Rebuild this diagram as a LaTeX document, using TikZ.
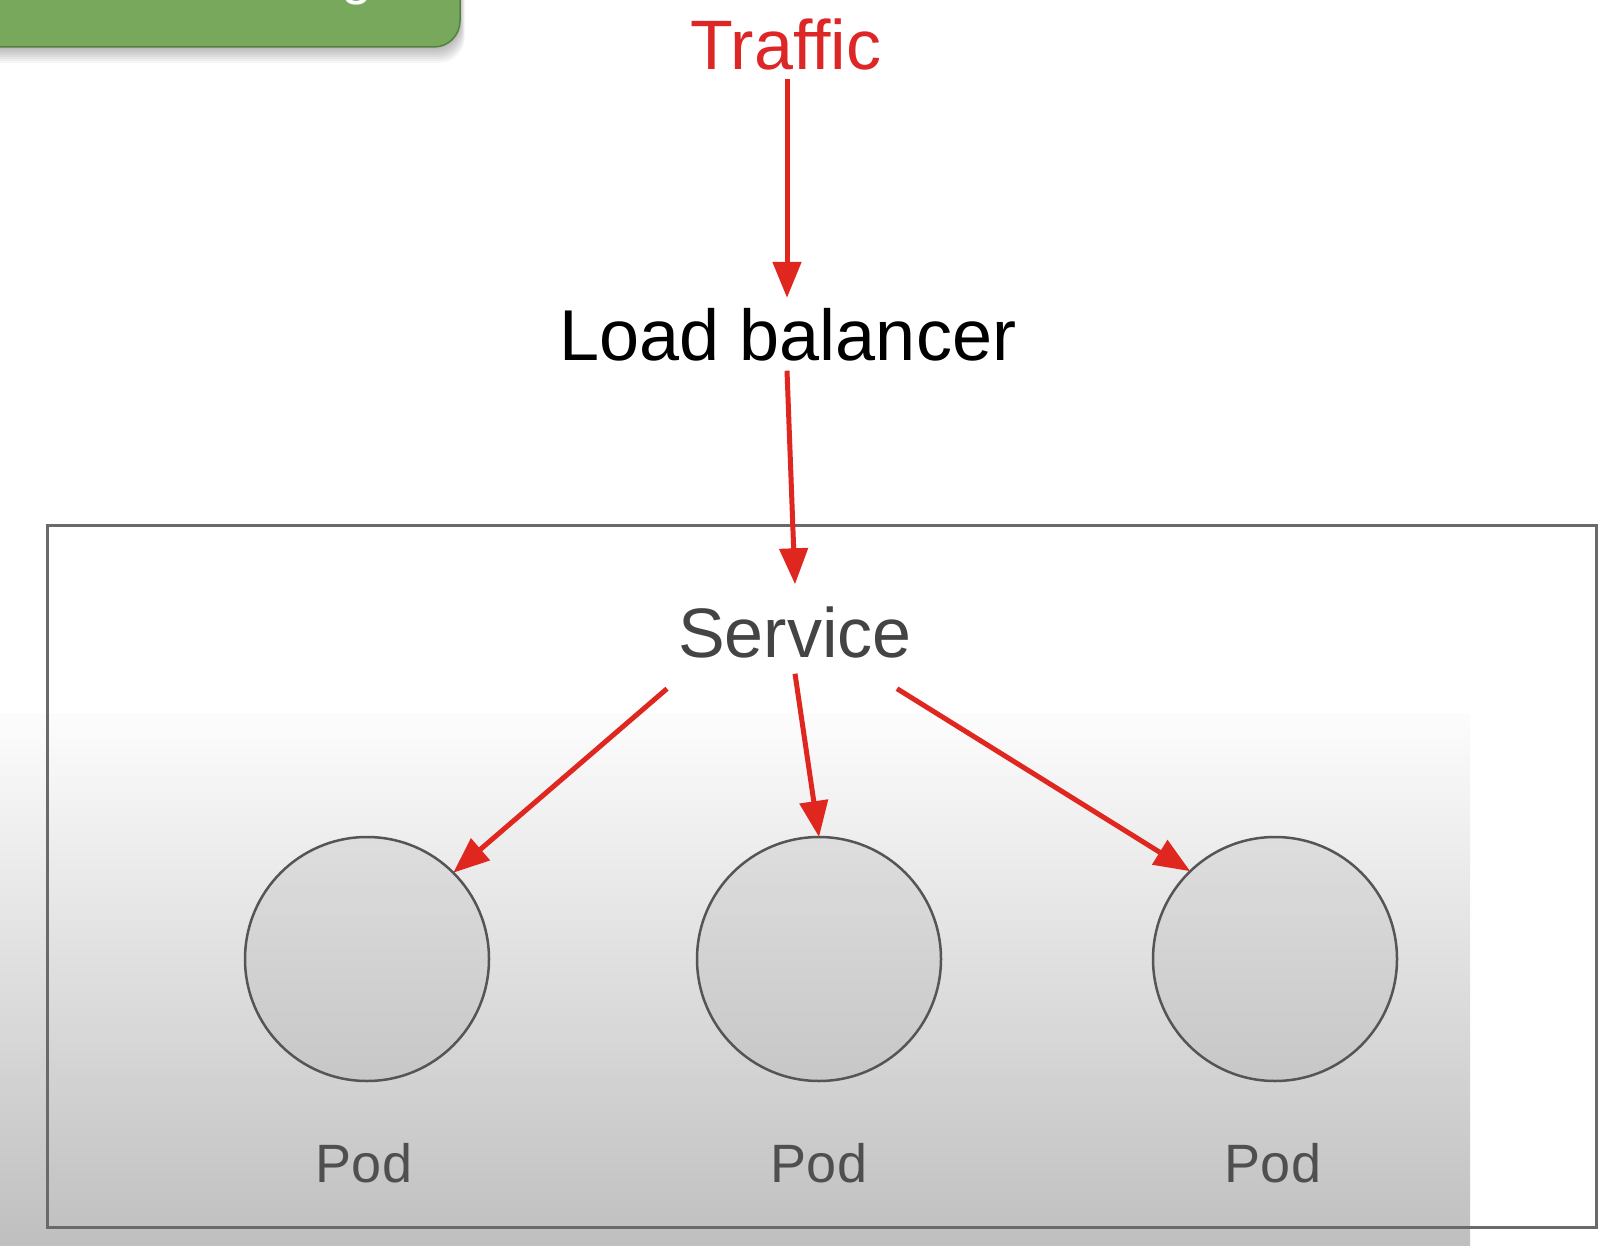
\documentclass[tikz,border=0pt]{standalone}
\usepackage{fontspec}
\setmainfont{Liberation Sans}
\usetikzlibrary{arrows.meta,calc}
\definecolor{arrred}{HTML}{E0271F}
\definecolor{txtred}{HTML}{DD2626}
\definecolor{titlegreen}{HTML}{78A85C}
\definecolor{titleedge}{HTML}{557F40}
\definecolor{boxgrey}{HTML}{6A6A6A}
\definecolor{podedge}{HTML}{555555}
\definecolor{svcgrey}{HTML}{444444}
\definecolor{podgrey}{HTML}{4F4F4F}
\definecolor{fadegrey}{HTML}{BFBFBF}
\tikzset{
  arr/.style={draw=arrred, line width=5pt, -{Triangle[length=36pt,width=28pt]}},
  bigtext/.style={inner sep=0pt, outer sep=0pt, anchor=base, font=\fontsize{72}{80}\selectfont},
  podtext/.style={inner sep=0pt, outer sep=0pt, anchor=base, text=podgrey, font=\fontsize{54}{60}\selectfont},
  pod/.style={circle, inner sep=0pt, outer sep=0pt, minimum size=244pt, draw=podedge, line width=2.5pt, top color=white!87!black, bottom color=white!78!black},
  frame/.style={draw=boxgrey, line width=3pt},
  titlebox/.style={rounded corners=26pt, fill=titlegreen, draw=titleedge, line width=1.5pt, minimum width=540pt, minimum height=120pt, anchor=south east, inner sep=0pt, outer sep=0pt}
}
\begin{document}
\begin{tikzpicture}[x=1pt,y=1pt]
\useasboundingbox (0,0) rectangle (1622,-1246);
\fill[white] (0,0) rectangle (1622,-1246);
% shadow of title box
\foreach \i in {1,...,8}{
  \fill[black, opacity=0.035, rounded corners=26pt] (-80,80) rectangle ({460+0.6*\i},{-47-2.0*\i});
}
\node[titlebox] (title) at (460,-47) {};
\node[inner sep=0pt, anchor=base, text=white, font=\fontsize{56}{60}\selectfont] (titleg) at (357,-6+12) {g};
% fade
\shade[top color=white!99!black, bottom color=fadegrey] (0,-713) rectangle (1470,-1246);
% frame
\draw[frame] (47,-525) rectangle (1596,-1227);
% texts
\node[bigtext, text=txtred, font=\fontsize{70}{80}\selectfont] (traffic) at (786,-70) {Traffic};
\node[bigtext, text=black] (lb) at (788,-360) {Load balancer};
\node[bigtext, text=svcgrey, font=\fontsize{70}{80}\selectfont] (svc) at (795,-657) {Service};
% pods
\node[pod] (pod1) at (367,-959) {};
\node[pod] (pod2) at (819,-959) {};
\node[pod] (pod3) at (1275,-959) {};
\node[podtext] (pl1) at (364,-1182) {Pod};
\node[podtext] (pl2) at (819,-1182) {Pod};
\node[podtext] (pl3) at (1273,-1182) {Pod};
% arrows
\draw[arr] ([xshift=1pt,yshift=-8pt]traffic.south) -- ([xshift=-1pt,yshift=10pt]lb.north);
\draw[arr] ([xshift=-1pt,yshift=-10pt]lb.south) -- ([yshift=22pt]svc.north);
\draw[arr] ([xshift=-128pt,yshift=-31pt]svc.south) -- (pod1.45);
\draw[arr] ([yshift=-16pt]svc.south) -- (pod2.90);
\draw[arr] ([xshift=102pt,yshift=-31pt]svc.south) -- (pod3.134);
\end{tikzpicture}
\end{document}
